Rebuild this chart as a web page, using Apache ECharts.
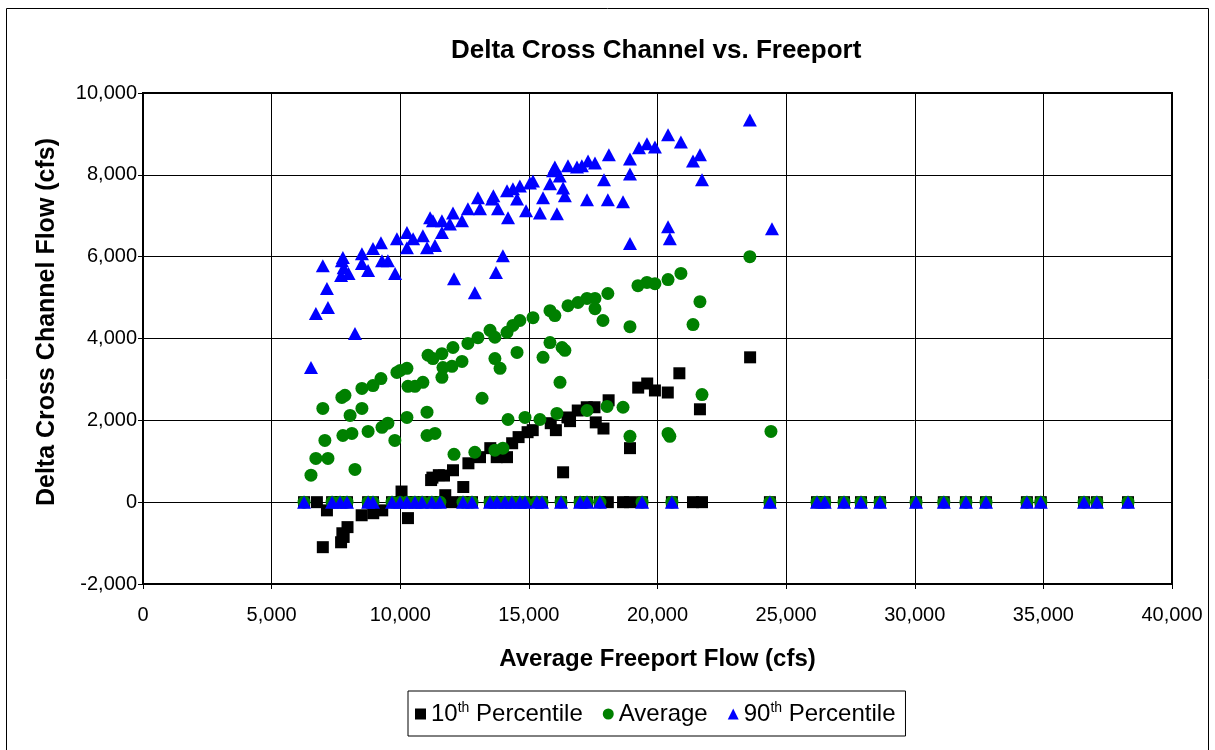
<!DOCTYPE html>
<html>
<head>
<meta charset="utf-8">
<script src="https://cdn.jsdelivr.net/npm/echarts@6/dist/echarts.min.js"></script>
<style>
  html, body { margin: 0; padding: 0; background: #fff; }
  #chart { width: 1215px; height: 750px; }
</style>
</head>
<body>
<div id="chart"></div>
<script>
// Freeport flows (cfs) where all three percentiles are zero (gates closed)
const closedFlows = [6260, 7350, 7660, 7930, 8750, 8940, 9680, 9990, 10260, 10570, 10850,
  11230, 11540, 12440, 12790, 13490, 13760, 14070, 14340, 14650, 14850, 15310, 15510,
  16250, 16990, 17260, 17760, 19400, 20560, 24370, 26200, 26500, 27250, 27910, 28650,
  30050, 31130, 31990, 32770, 34360, 34900, 36580, 37080, 38290];

// flows where only the 10th percentile sits at zero
const p10ZeroFlows = [6760, 12010, 18070, 18660, 18930, 21380, 21730];

const p10Points = [
  [6990, -1100], [7150, -200], [7700, -980], [7750, -760], [7800, -850], [7950, -610],
  [8500, -320], [8950, -270], [9300, -200], [10050, 260], [10300, -390], [11200, 540],
  [11250, 600], [11500, 660], [11700, 650], [11750, 170], [12050, 780], [12450, 370],
  [12650, 950], [13100, 1100], [13500, 1320], [13750, 1100], [14150, 1100], [14350, 1440],
  [14600, 1590], [14950, 1710], [15150, 1760], [15850, 1930], [16050, 1760], [16330, 730],
  [16500, 2070], [16600, 1980], [16900, 2240], [17250, 2320], [17550, 2320], [17600, 1950],
  [17900, 1800], [18100, 2490], [18930, 1320], [19250, 2800], [19600, 2900], [19900, 2730],
  [20400, 2680], [20850, 3150], [21650, 2270], [23600, 3540]
];

const avgPoints = [
  [6530, 660], [6720, 1070], [6990, 2290], [7070, 1510], [7190, 1070], [7730, 2560],
  [7770, 1630], [7850, 2610], [8050, 2120], [8120, 1680], [8240, 800], [8510, 2780],
  [8510, 2290], [8750, 1730], [8940, 2850], [9250, 3020], [9290, 1830], [9520, 1930],
  [9790, 1510], [9870, 3170], [10000, 3220], [10260, 3270], [10260, 2070], [10300, 2830],
  [10570, 2830], [10880, 2930], [11040, 2200], [11040, 1630], [11080, 3590], [11270, 3510],
  [11350, 1680], [11620, 3630], [11660, 3290], [11620, 3050], [12010, 3320], [12050, 3780],
  [12090, 1170], [12400, 3440], [12630, 3880], [12900, 1220], [13020, 4020], [13180, 2540],
  [13490, 4200], [13680, 4030], [13680, 3510], [13680, 1270], [13880, 3270], [13990, 1320],
  [14150, 4150], [14190, 2020], [14380, 4320], [14540, 3660], [14650, 4440], [14850, 2070],
  [15160, 4510], [15430, 2020], [15550, 3540], [15820, 3900], [15820, 4680], [16010, 4560],
  [16090, 2170], [16210, 2930], [16290, 3780], [16400, 3710], [16520, 4800], [16910, 4880],
  [17260, 4980], [17260, 2240], [17570, 4980], [17570, 4730], [17880, 4440], [18040, 2340],
  [18070, 5100], [18660, 2320], [18930, 4290], [18930, 1610], [19240, 5290], [19590, 5370],
  [19900, 5340], [20410, 5440], [20410, 1680], [20480, 1610], [20910, 5590], [21380, 4340],
  [21650, 4900], [21730, 2630], [23590, 6000], [24410, 1730]
];

const p90Points = [
  [6530, 3290], [6720, 4610], [6990, 5780], [7150, 5220], [7190, 4760], [7730, 5900],
  [7770, 5980], [7800, 5730], [7700, 5540], [7990, 5590], [8240, 4120], [8510, 6070],
  [8510, 5830], [8750, 5660], [8940, 6200], [9250, 6340], [9290, 5900], [9520, 5900],
  [9800, 5590], [9870, 6440], [10260, 6590], [10260, 6220], [10500, 6440], [10880, 6510],
  [11040, 6220], [11160, 6950], [11270, 6880], [11350, 6270], [11620, 6880], [11620, 6590],
  [11930, 6800], [12050, 7070], [12090, 5460], [12400, 6880], [12630, 7170], [12900, 5120],
  [13020, 7440], [13100, 7170], [13570, 7410], [13620, 7490], [13720, 5610], [13800, 7170],
  [13990, 6020], [14150, 7610], [14190, 6950], [14380, 7660], [14540, 7410], [14650, 7730],
  [14890, 7120], [15040, 7800], [15160, 7850], [15430, 7070], [15550, 7440], [15820, 7780],
  [15940, 8100], [16010, 8190], [16090, 7050], [16200, 7970], [16330, 7680], [16400, 7490],
  [16520, 8220], [16870, 8190], [17060, 8220], [17260, 7390], [17300, 8340], [17570, 8290],
  [17920, 7880], [18070, 7390], [18110, 8490], [18660, 7340], [18930, 8390], [18930, 8020],
  [18930, 6320], [19280, 8660], [19590, 8760], [19900, 8680], [20410, 8980], [20410, 6730],
  [20480, 6440], [20910, 8800], [21380, 8340], [21650, 8490], [21730, 7880], [23590, 9340],
  [24450, 6680]
];

const p10Data = p10Points.concat(closedFlows.map(f => [f, 0]), p10ZeroFlows.map(f => [f, 0]));
const avgData = avgPoints.concat(closedFlows.map(f => [f, 0]));
const p90Data = p90Points.concat(closedFlows.map(f => [f, 0]));

const font = 'Arial, "Liberation Sans", sans-serif';
const fmt = v => v.toLocaleString('en-US');

const chart = echarts.init(document.getElementById('chart'));
chart.setOption({
  animation: false,
  backgroundColor: '#fff',
  textStyle: { fontFamily: font, color: '#000' },
  title: {
    text: 'Delta Cross Channel vs. Freeport',
    left: 446,
    top: 33,
    textStyle: { fontFamily: font, fontSize: 26, fontWeight: 'bold', color: '#000' }
  },
  graphic: [
    {
      type: 'rect',
      shape: { x: 6.5, y: 8.5, width: 1202, height: 760 },
      style: { fill: 'none', stroke: '#000', lineWidth: 1 },
      silent: true
    },
    {
      // y axis title, rotated
      type: 'text',
      x: 47, y: 322,
      rotation: Math.PI / 2,
      style: {
        text: 'Delta Cross Channel Flow (cfs)',
        font: 'bold 25px Arial, "Liberation Sans", sans-serif',
        fill: '#000',
        align: 'center',
        verticalAlign: 'middle'
      },
      silent: true
    }
  ],
  grid: {
    left: 143, right: 43, top: 93, bottom: 166,
    show: true, borderColor: '#000', borderWidth: 2
  },
  legend: {
    left: 408, top: 691,
    padding: [10, 10, 10, 7],
    borderColor: '#000', borderWidth: 1,
    itemWidth: 11, itemHeight: 11, itemGap: 20,
    textStyle: {
      fontFamily: font, fontSize: 24, color: '#000',
      rich: { sup: { fontFamily: font, fontSize: 14, color: '#000', verticalAlign: 'top', padding: [0, 0, 12, 0] } }
    },
    formatter: name => {
      if (name === '10th Percentile') return '10{sup|th} Percentile';
      if (name === '90th Percentile') return '90{sup|th} Percentile';
      return name;
    }
  },
  xAxis: {
    type: 'value', min: 0, max: 40000, interval: 5000,
    name: 'Average Freeport Flow (cfs)', nameLocation: 'middle', nameGap: 63,
    nameTextStyle: { fontFamily: font, fontSize: 24, fontWeight: 'bold', color: '#000' },
    axisLine: { onZero: false, lineStyle: { color: '#000', width: 2 } },
    axisTick: { show: true, length: 5, lineStyle: { color: '#000' } },
    axisLabel: { fontFamily: font, fontSize: 20, color: '#000', margin: 21, formatter: fmt },
    splitLine: { show: true, lineStyle: { color: '#000', width: 1 } }
  },
  yAxis: {
    type: 'value', min: -2000, max: 10000, interval: 2000,
    axisLine: { lineStyle: { color: '#000', width: 2 } },
    axisTick: { show: true, length: 5, lineStyle: { color: '#000' } },
    axisLabel: { fontFamily: font, fontSize: 20, color: '#000', margin: 6, formatter: fmt },
    splitLine: { show: true, lineStyle: { color: '#000', width: 1 } }
  },
  series: [
    {
      name: '10th Percentile', type: 'scatter', symbol: 'rect', symbolSize: 12,
      itemStyle: { color: '#000', opacity: 1 }, data: p10Data
    },
    {
      name: 'Average', type: 'scatter', symbol: 'circle', symbolSize: 13,
      itemStyle: { color: '#008000', opacity: 1 }, data: avgData
    },
    {
      name: '90th Percentile', type: 'scatter', symbol: 'triangle', symbolSize: [14, 13],
      itemStyle: { color: '#0000ff', opacity: 1 }, data: p90Data
    }
  ]
});
</script>
</body>
</html>
